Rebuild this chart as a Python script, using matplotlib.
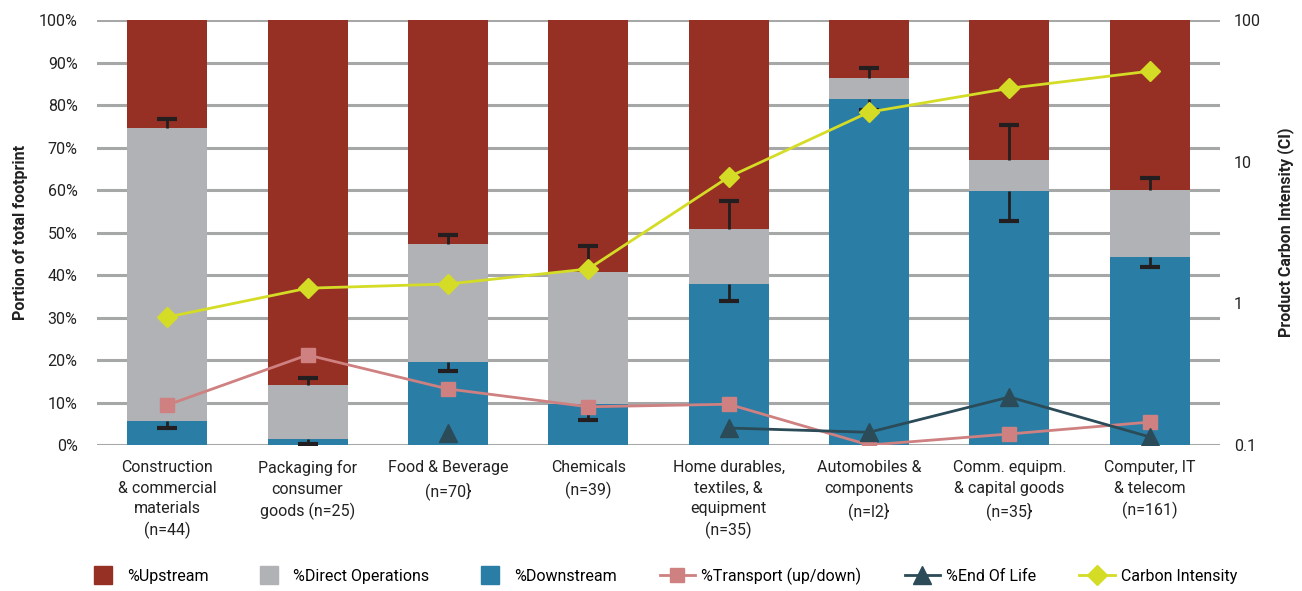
"""
footprint breakdown by sector, with carbon intensity on a log axis
"""
import matplotlib.pyplot as plt
import numpy as np
from matplotlib.lines import Line2D

plt.rcParams["font.family"] = ["Roboto", "DejaVu Sans"]

sectors = [
    "Construction\n& commercial\nmaterials\n(n=44)",
    "Packaging for\nconsumer\ngoods (n=25)",
    "Food & Beverage\n(n=70}",
    "Chemicals\n(n=39)",
    "Home durables,\ntextiles, &\nequipment\n(n=35)",
    "Automobiles &\ncomponents\n(n=l2}",
    "Comm. equipm.\n& capital goods\n(n=35}",
    "Computer, IT\n& telecom\n(n=161)",
]

# shares in % of total footprint
downstream = [5.6, 1.4, 19.5, 9.6, 37.9, 81.4, 59.8, 44.2]
direct_ops = [69.0, 12.7, 27.8, 31.1, 12.9, 5.0, 7.3, 15.8]
# error bars: downward on downstream share, upward on downstream+direct share
err_down = [1.6, 1.2, 2.1, 3.7, 4.0, 2.5, 7.1, 2.3]
err_up = [2.1, 1.7, 2.1, 6.1, 6.6, 2.3, 8.2, 2.8]

transport = [9.4, 21.2, 13.2, 9.0, 9.6, 0.0, 2.6, 5.4]
end_of_life = [np.nan, np.nan, 2.8, np.nan, 4.0, 3.0, 11.3, 1.9]
carbon_intensity = [0.80, 1.28, 1.37, 1.75, 7.8, 22.4, 33.0, 43.6]

C_UP = "#963024"
C_DIRECT = "#B1B2B5"
C_DOWN = "#2A7EA6"
C_TRANS = "#CF8080"
C_EOL = "#2A4B57"
C_CI = "#D4DC26"
C_ERR = "#231F20"

downstream = np.array(downstream)
direct_ops = np.array(direct_ops)
mid = downstream + direct_ops
upstream = 100 - mid
x = np.arange(len(sectors))

fig = plt.figure(figsize=(13.02, 5.91), dpi=100)
ax = fig.add_axes([0.0745, 0.247, 0.8625, 0.719])
ax2 = ax.twinx()

w = 0.57
ax.bar(x, downstream, w, color=C_DOWN, zorder=2)
ax.bar(x, direct_ops, w, bottom=downstream, color=C_DIRECT, zorder=2)
ax.bar(x, upstream, w, bottom=mid, color=C_UP, zorder=2)


def one_sided_err(base, ends):
    # stem from the segment edge, cap only at the far end
    ax.vlines(x, base, ends, color=C_ERR, lw=2, zorder=3)
    ax.plot(x, ends, ls="none", marker="_", ms=14, mew=3, color=C_ERR, zorder=3)


one_sided_err(downstream, downstream - np.array(err_down))
one_sided_err(mid, mid + np.array(err_up))

ax.plot(x, transport, color=C_TRANS, lw=2, marker="s", ms=10, zorder=4)
ax.plot(x, end_of_life, color=C_EOL, lw=2, marker="^", ms=13, zorder=4)

ax2.plot(x, carbon_intensity, color=C_CI, lw=2, marker="D", ms=10, zorder=5)
ax2.set_yscale("log")
ax2.set_ylim(0.1, 100)
ax2.set_yticks([0.1, 1, 10, 100])
ax2.set_yticklabels(["0.1", "1", "10", "100"])
ax2.minorticks_off()

ax.set_xlim(-0.5, len(x) - 0.5)
ax.set_ylim(0, 100)
ax.set_yticks(np.arange(0, 101, 10))
ax.set_yticklabels([f"{v}%" for v in range(0, 101, 10)])
ax.yaxis.grid(True, color="#A6A8A7", lw=2.2, zorder=0)
ax.set_axisbelow(True)
ax.set_xticks(x)
ax.set_xticklabels(sectors, fontsize=11.5, color="#222222", linespacing=1.45)

for a in (ax, ax2):
    for s in a.spines.values():
        s.set_visible(False)
    a.tick_params(length=0, labelsize=11.5, colors="#222222")
ax.tick_params(axis="y", pad=14)
ax.tick_params(axis="x", pad=11, labelsize=11.5)
ax2.tick_params(axis="y", pad=10)

ax.set_ylabel("Portion of total footprint", fontsize=11.5, fontweight="bold",
              color="#222222", labelpad=8)
ax2.set_ylabel("Product Carbon Intensity (CI)", fontsize=11.5, fontweight="bold",
               color="#222222", labelpad=12)

# square markers stand in for the bar entries
handles = [
    Line2D([], [], ls="none", marker="s", ms=13, color=C_UP, label="%Upstream"),
    Line2D([], [], ls="none", marker="s", ms=13, color=C_DIRECT, label="%Direct Operations"),
    Line2D([], [], ls="none", marker="s", ms=13, color=C_DOWN, label="%Downstream"),
    Line2D([], [], color=C_TRANS, lw=2, marker="s", ms=10, label="%Transport (up/down)"),
    Line2D([], [], color=C_EOL, lw=2, marker="^", ms=13, label="%End Of Life"),
    Line2D([], [], color=C_CI, lw=2, marker="D", ms=10, label="Carbon Intensity"),
]
fig.legend(handles=handles, loc="center", bbox_to_anchor=(0.508, 0.025), ncol=6,
           frameon=False, fontsize=11.5, columnspacing=2.7, handlelength=2.2,
           handletextpad=0.4)

plt.savefig("out.png", dpi=100)
